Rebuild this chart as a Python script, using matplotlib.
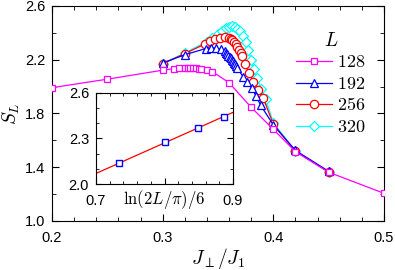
import numpy as np
import matplotlib
matplotlib.use("Agg")
import matplotlib.pyplot as plt
from matplotlib.ticker import MultipleLocator

plt.rcParams['font.family'] = ['Liberation Sans', 'DejaVu Sans']
plt.rcParams['mathtext.fontset'] = 'cm'

# entanglement entropy S_L vs J_perp/J_1 for several L
j128 = [0.2, 0.25, 0.3, 0.31, 0.315, 0.32, 0.3225, 0.325, 0.3275, 0.33, 0.3325,
        0.335, 0.34, 0.345, 0.36, 0.38, 0.4, 0.42, 0.45, 0.5]
s128 = [1.992, 2.055, 2.122, 2.133, 2.136, 2.138, 2.138, 2.138, 2.137, 2.136, 2.134,
        2.131, 2.124, 2.111, 2.029, 1.846, 1.682, 1.516, 1.363, 1.206]

j192 = [0.3, 0.32, 0.339, 0.3435, 0.348, 0.3525, 0.3565, 0.3575, 0.3585, 0.3595,
        0.3605, 0.3615, 0.3625, 0.3635, 0.3645, 0.3655, 0.3665, 0.3675, 0.3725,
        0.3765, 0.3805, 0.3845, 0.3885, 0.4, 0.42, 0.45]
s192 = [2.175, 2.237, 2.283, 2.286, 2.287, 2.276, 2.262, 2.252, 2.242, 2.231,
        2.22, 2.21, 2.199, 2.188, 2.177, 2.165, 2.153, 2.14, 2.075, 2.035,
        1.987, 1.93, 1.862, 1.715, 1.525, 1.37]

j256 = [0.3, 0.32, 0.3385, 0.343, 0.3475, 0.352, 0.3565, 0.36, 0.3615, 0.363,
        0.3645, 0.366, 0.3675, 0.369, 0.3705, 0.372, 0.3745, 0.378, 0.382,
        0.3865, 0.391, 0.4, 0.42, 0.45]
s256 = [2.17, 2.245, 2.318, 2.34, 2.354, 2.364, 2.366, 2.362, 2.354, 2.344,
        2.33, 2.314, 2.296, 2.275, 2.253, 2.228, 2.17, 2.1, 2.037, 1.975,
        1.913, 1.72, 1.52, 1.365]

j320 = [0.3, 0.32, 0.34, 0.345, 0.35, 0.354, 0.357, 0.36, 0.3625, 0.365, 0.3675,
        0.37, 0.3725, 0.375, 0.3775, 0.38, 0.3825, 0.385, 0.389, 0.393, 0.4, 0.42, 0.45]
s320 = [2.17, 2.25, 2.335, 2.36, 2.39, 2.415, 2.435, 2.447, 2.449, 2.445, 2.432,
        2.41, 2.375, 2.33, 2.27, 2.2, 2.13, 2.065, 1.985, 1.91, 1.73, 1.52, 1.365]

# inset: peak S_L vs ln(2L/pi)/6
L_sizes = np.array([128, 192, 256, 320])
s_peak = [2.136, 2.275, 2.369, 2.444]

fig = plt.figure(figsize=(3.95, 2.7), dpi=100)
ax = fig.add_axes([0.1316, 0.1815, 0.8404, 0.7965])

series = [
    (j128, s128, '#ff00ff', 's', 5, '128', 4),
    (j192, s192, '#0000ff', '^', 6, '192', 3),
    (j256, s256, '#ff0000', 'o', 6, '256', 2),
    (j320, s320, '#00ffff', 'D', 5, '320', 1),
]
for x, y, c, m, ms, lab, z in series:
    ax.plot(x, y, color=c, lw=0.9, marker=m, ms=ms, mfc='white', mec=c,
            mew=0.9, label=r'$%s$' % lab, zorder=z)

ax.set_xlim(0.2, 0.5)
ax.set_ylim(1.0, 2.6)
ax.set_xticks([0.2, 0.3, 0.4, 0.5])
ax.set_xticklabels(['0.2', '0.3', '0.4', '0.5'])
ax.xaxis.set_minor_locator(MultipleLocator(0.02))
ax.set_yticks([1.0, 1.4, 1.8, 2.2, 2.6])
ax.set_yticklabels(['1.0', '1.4', '1.8', '2.2', '2.6'])
ax.yaxis.set_minor_locator(MultipleLocator(0.2))
ax.tick_params(which='both', direction='in', top=True, right=True, labelsize=10.5)
ax.tick_params(which='major', length=5)
ax.tick_params(which='minor', length=3)
ax.tick_params(axis='x', pad=7)
ax.tick_params(axis='y', pad=5)
ax.set_xlabel(r'$J_{\perp}/J_1$', fontsize=14, labelpad=1)
ax.set_ylabel(r'$S_L$', fontsize=14, labelpad=2)

leg = ax.legend(loc='upper right', bbox_to_anchor=(0.978, 0.93), frameon=False,
                title=r'$L$', fontsize=13, title_fontsize=14, handlelength=2.0,
                handletextpad=0.3, labelspacing=0.25, borderaxespad=0.2)

# inset
axi = fig.add_axes([0.243, 0.3185, 0.347, 0.3371])
xl = np.log(2 * L_sizes / np.pi) / 6
coef = np.polyfit(xl, s_peak, 1)
xf = np.array([0.7, 0.9])
axi.plot(xf, np.polyval(coef, xf), color='#ff0000', lw=0.9)
axi.plot(xl, s_peak, ls='none', marker='s', ms=4.5, mfc='white', mec='#0000ff', mew=1.0)
axi.set_xlim(0.7, 0.9)
axi.set_ylim(2.0, 2.6)
axi.set_xticks([0.7, 0.8, 0.9])
axi.set_xticklabels(['0.7', '', '0.9'])
axi.xaxis.set_minor_locator(MultipleLocator(0.02))
axi.set_yticks([2.0, 2.3, 2.6])
axi.yaxis.set_minor_locator(MultipleLocator(0.1))
axi.tick_params(which='both', direction='in', top=True, right=True, labelsize=10.5)
axi.tick_params(which='major', length=4)
axi.tick_params(which='minor', length=2.5)
axi.tick_params(axis='x', pad=7)
axi.tick_params(axis='y', pad=5)
axi.set_xlabel(r'$\ln(2L/\pi)/6$', fontsize=12, labelpad=-14)

fig.savefig('out.png', dpi=100)
